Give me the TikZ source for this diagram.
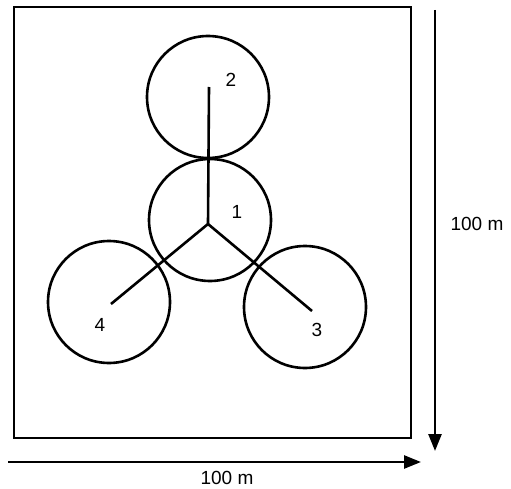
\documentclass[tikz,border=0pt]{standalone}
\usepackage{fontspec}
\setmainfont{Liberation Sans}
\usepackage{tikz}
\usetikzlibrary{arrows.meta}
\tikzset{
  plot/.style={draw,line width=2.6pt},
  well/.style={circle,draw,line width=2.6pt,minimum size=122pt,inner sep=0pt},
  spoke/.style={line width=2.6pt},
  wlab/.style={font=\fontsize{19}{21}\selectfont},
  dimarrow/.style={line width=2.6pt,-{Triangle[length=17pt,width=13pt]}}
}
\newcommand{\wellcoords}{\foreach \wi/\wx/\wy in {1/210/220,2/208/97,3/305/307,4/109/302}{\coordinate (c\wi) at (\wx,\wy);}}

\begin{document}
\begin{tikzpicture}[x=1pt,y=-1pt]
\useasboundingbox (0,0) rectangle (511,489);
\wellcoords
\draw[plot] (14,7) rectangle (411,438);
\foreach \idx in {1,2,3,4}{\node[well] (w\idx) at (c\idx){};}
\coordinate (hub) at (208,224);
\coordinate (e2) at (209,87);
\coordinate (e3) at (312,311);
\coordinate (e4) at (111,304);
\foreach \e in {2,3,4}{\draw[spoke] (hub)--(e\e);}
\node[wlab] (l1) at (237,212){1};
\node[wlab] (l2) at (231,80){2};
\node[wlab] (l3) at (317,330){3};
\node[wlab] (l4) at (100,325){4};
\coordinate (vtop) at (435,10);
\coordinate (vend) at (435,451);
\coordinate (hbeg) at (8,462);
\coordinate (hend) at (421,462);
\draw[dimarrow] (vtop)--(vend);
\draw[dimarrow] (hbeg)--(hend);
\node[wlab] (dimv) at (477,224){100 m};
\node[wlab] (dimh) at (227,478){100 m};
\end{tikzpicture}
\end{document}
